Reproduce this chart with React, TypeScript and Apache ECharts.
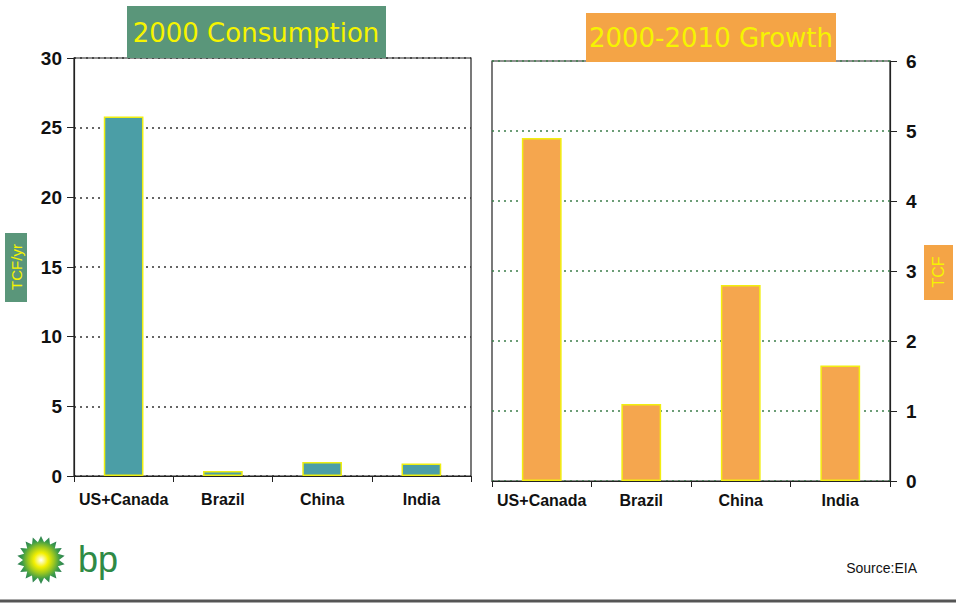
import React, { useEffect, useRef } from "react";
import * as echarts from "echarts";

const categories = ["US+Canada", "Brazil", "China", "India"];
const consumption2000 = [25.8, 0.35, 1.0, 0.9];
const growth2000to2010 = [4.9, 1.1, 2.8, 1.65];
const leftTitle = "2000 Consumption";
const rightTitle = "2000-2010 Growth";
const leftUnit = "TCF/yr";
const rightUnit = "TCF";
const sourceText = "Source:EIA";

const FONT = "'Liberation Sans', Arial, sans-serif";

function sunburstPoints(cx: number, cy: number, rOut: number, rIn: number, n: number) {
  const pts: number[][] = [];
  for (let i = 0; i < n * 2; i++) {
    const r = i % 2 === 0 ? rOut : rIn;
    const a = (Math.PI * i) / n - Math.PI / 2;
    pts.push([cx + r * Math.cos(a), cy + r * Math.sin(a)]);
  }
  return pts;
}

export default function App() {
  const ref = useRef<HTMLDivElement>(null);
  useEffect(() => {
    if (!ref.current) return;
    const chart = echarts.init(ref.current, undefined, { renderer: "svg" });
    const axisLabelY = { fontFamily: FONT, fontWeight: "bold" as const, fontSize: 19, color: "#111" };
    const catLabel = { fontFamily: FONT, fontWeight: "bold" as const, fontSize: 16, color: "#111", interval: 0 };
    const catTick = { show: true, length: 6, interval: 0, alignWithLabel: false, lineStyle: { color: "#222" } };
    const option: any = {
      animation: false,
      backgroundColor: "#fff",
      grid: [
        { left: 74, right: 956 - 471, top: 58, bottom: 604 - 476, show: true, borderColor: "#222", borderWidth: 1.2, backgroundColor: "transparent" },
        { left: 492, right: 956 - 890, top: 61, bottom: 604 - 481, show: true, borderColor: "#222", borderWidth: 1.2, backgroundColor: "transparent" },
      ],
      xAxis: [
        {
          type: "category", gridIndex: 0, data: categories,
          axisLine: { lineStyle: { color: "#222", width: 1.2 } },
          axisTick: catTick,
          axisLabel: { ...catLabel, margin: 15 },
        },
        {
          type: "category", gridIndex: 1, data: categories,
          axisLine: { lineStyle: { color: "#222", width: 1.2 } },
          axisTick: catTick,
          axisLabel: { ...catLabel, margin: 11 },
        },
      ],
      yAxis: [
        {
          type: "value", gridIndex: 0, min: 0, max: 30, interval: 5,
          axisLine: { show: true, lineStyle: { color: "#222", width: 1.2 } },
          axisTick: { show: true, length: 7, lineStyle: { color: "#222" } },
          axisLabel: { ...axisLabelY, margin: 12 },
          splitLine: { show: true, lineStyle: { color: "#333", type: [2, 4], width: 1.5 } },
        },
        {
          type: "value", gridIndex: 1, min: 0, max: 6, interval: 1, position: "right",
          axisLine: { show: true, lineStyle: { color: "#222", width: 1.2 } },
          axisTick: { show: true, length: 7, lineStyle: { color: "#222" } },
          axisLabel: { ...axisLabelY, margin: 16 },
          splitLine: { show: true, lineStyle: { color: "#3b7d4a", type: [2, 4], width: 1.5 } },
        },
      ],
      series: [
        {
          type: "bar", xAxisIndex: 0, yAxisIndex: 0, data: consumption2000, barWidth: "40%",
          itemStyle: { color: "#4b9ea6", borderColor: "#eeee10", borderWidth: 1.5 },
        },
        {
          type: "bar", xAxisIndex: 1, yAxisIndex: 1, data: growth2000to2010, barWidth: "40%",
          itemStyle: { color: "#f5a64e", borderColor: "#f2ee10", borderWidth: 1.5 },
        },
      ],
      graphic: [
        { type: "rect", z: 100, shape: { x: 127, y: 6, width: 259, height: 52 }, style: { fill: "#5a967a" } },
        { type: "text", z: 101, x: 256, y: 33, style: { text: leftTitle, fill: "#f6f400", font: `26px 'DejaVu Sans', sans-serif`, align: "center", verticalAlign: "middle" } },
        { type: "rect", z: 100, shape: { x: 586, y: 13, width: 250, height: 49 }, style: { fill: "#f4a446" } },
        { type: "text", z: 101, x: 711, y: 38, style: { text: rightTitle, fill: "#f6f400", font: `26px 'DejaVu Sans', sans-serif`, align: "center", verticalAlign: "middle" } },
        { type: "rect", z: 100, shape: { x: 5, y: 233, width: 22, height: 69 }, style: { fill: "#5a967a" } },
        { type: "text", z: 101, x: 16, y: 267, rotation: Math.PI / 2, style: { text: leftUnit, fill: "#f6f400", font: `15px ${FONT}`, align: "center", verticalAlign: "middle" } },
        { type: "rect", z: 100, shape: { x: 924, y: 245, width: 29, height: 55 }, style: { fill: "#f4a446" } },
        { type: "text", z: 101, x: 938, y: 272, rotation: Math.PI / 2, style: { text: rightUnit, fill: "#f6f400", font: `16px ${FONT}`, align: "center", verticalAlign: "middle" } },
        { type: "text", z: 101, x: 917, y: 568, style: { text: sourceText, fill: "#111", font: `14px ${FONT}`, align: "right", verticalAlign: "middle" } },
        {
          type: "polygon", z: 100,
          shape: { points: sunburstPoints(41, 560, 24, 18, 18) },
          style: {
            fill: new echarts.graphic.RadialGradient(0.5, 0.5, 0.5, [
              { offset: 0, color: "#ffffff" },
              { offset: 0.3, color: "#f4f000" },
              { offset: 0.55, color: "#9cc820" },
              { offset: 0.8, color: "#3a9a4a" },
              { offset: 1, color: "#2f7d55" },
            ]),
          },
        },
        { type: "text", z: 101, x: 78, y: 559, style: { text: "bp", fill: "#2f8a45", font: `36px ${FONT}`, align: "left", verticalAlign: "middle" } },
        { type: "line", z: 100, shape: { x1: 0, y1: 601, x2: 956, y2: 601 }, style: { stroke: "#555", lineWidth: 3 } },
      ],
    };
    chart.setOption(option);
    return () => chart.dispose();
  }, []);
  return <div ref={ref} style={{ position: "fixed", left: 0, top: 0, width: 956, height: 604 }} />;
}
